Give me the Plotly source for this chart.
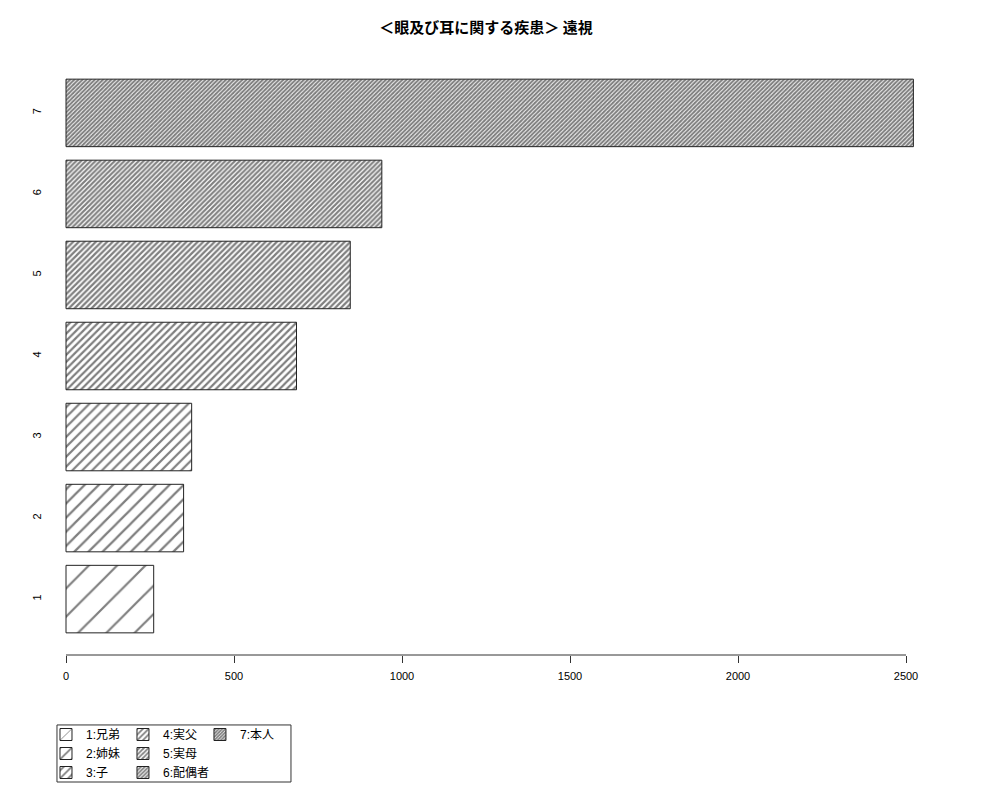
import plotly.graph_objects as go

# data
categories = ["1", "2", "3", "4", "5", "6", "7"]
names = ["1:兄弟", "2:姉妹", "3:子", "4:実父", "5:実母", "6:配偶者", "7:本人"]
values = [261, 350, 374, 686, 846, 940, 2522]
xticks = [0, 500, 1000, 1500, 2000, 2500]
title = "＜眼及び耳に関する疾患＞ 遠視"

# hatch spacing per bar (px), gets denser like R density=
hatch = [20, 10, 7, 5, 4, 3.4, 2.9]
legend_of = ["legend", "legend", "legend", "legend2", "legend2", "legend2", "legend3"]

fig = go.Figure()
for i in range(len(categories)):
    s = hatch[i]
    sol = min(0.7, 2.2 / s)
    fig.add_trace(go.Bar(
        y=[categories[i]], x=[values[i]], orientation="h", name=names[i],
        marker=dict(color="white", line=dict(color="#222222", width=1),
                    pattern=dict(shape="/", size=s, solidity=sol,
                                 fgcolor="black", bgcolor="white", fillmode="overlay")),
        legend=legend_of[i], showlegend=True))

# page body adds an 8px offset, margins below are compensated for that
px_per_unit = 0.336
leg_font = dict(family="Liberation Sans, Noto Sans CJK JP", size=12)
fig.update_layout(
    width=1000, height=800,
    margin=dict(l=52, r=61, t=49, b=153, autoexpand=False),
    plot_bgcolor="white", paper_bgcolor="white",
    font=dict(family="Liberation Sans, Noto Sans CJK JP", size=11, color="black"),
    title=dict(text="<b>" + title + "</b>", x=0.478, xref="container", xanchor="center",
               y=0.975, yref="container", yanchor="middle",
               font=dict(family="Noto Sans CJK JP", size=15, color="black")),
    barmode="overlay", bargap=0.2 / 1.2,
    xaxis=dict(range=[-6 / px_per_unit, 881 / px_per_unit], tickvals=xticks,
               showgrid=False, zeroline=False, showline=False,
               ticks="outside", ticklen=7, tickcolor="#333333",
               ticklabelstandoff=4, tickfont=dict(size=11)),
    yaxis=dict(type="category", categoryorder="array", categoryarray=categories,
               range=[-0.69, 6.69], showgrid=False, zeroline=False, showline=False,
               ticks="", tickangle=-90, ticklabelstandoff=16, tickfont=dict(size=11)),
    legend=dict(x=-0.0158, y=-0.1087, xanchor="left", yanchor="top", bgcolor="rgba(0,0,0,0)",
                font=leg_font, itemwidth=30, tracegroupgap=0),
    legend2=dict(x=0.071, y=-0.1087, xanchor="left", yanchor="top", bgcolor="rgba(0,0,0,0)",
                 font=leg_font, itemwidth=30, tracegroupgap=0),
    legend3=dict(x=0.1578, y=-0.1087, xanchor="left", yanchor="top", bgcolor="rgba(0,0,0,0)",
                 font=leg_font, itemwidth=30, tracegroupgap=0),
)

# R style axis line: only from first to last tick
fig.add_shape(type="line", xref="x", yref="paper", x0=xticks[0], x1=xticks[-1], y0=0, y1=0,
              line=dict(color="#333333", width=1))
# box around the legends
fig.add_shape(type="rect", xref="paper", yref="paper", x0=-0.0034, x1=0.2604, y0=-0.2124, y1=-0.117,
              line=dict(color="#333333", width=1))

fig.write_html("out.html")
